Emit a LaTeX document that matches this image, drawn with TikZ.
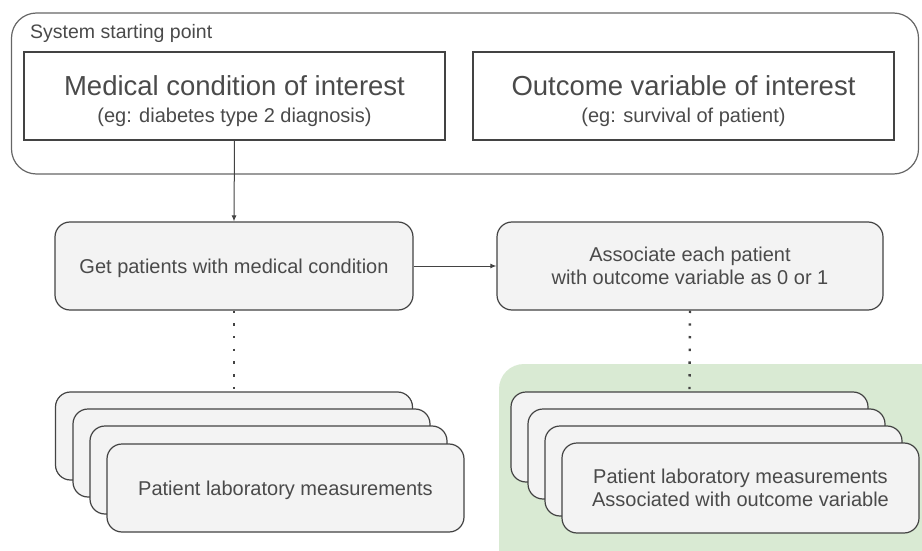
\documentclass[tikz,border=0pt]{standalone}
\usepackage{fontspec}
\setmainfont{Liberation Sans}
\usetikzlibrary{arrows.meta,positioning}
\definecolor{linegray}{HTML}{434343}
\definecolor{framegray}{HTML}{666666}
\definecolor{textgray}{HTML}{4A4A4A}
\definecolor{boxfill}{HTML}{F3F3F3}
\definecolor{softgreen}{HTML}{D9EAD3}

\begin{document}
\begin{tikzpicture}[x=1pt, y=-1pt,
    frame/.style={draw=linegray, line width=1.1pt, minimum width=421pt, minimum height=88pt, align=center, text=textgray, text height=56pt, text depth=4pt, font=\fontsize{20}{27}\selectfont},
    stepbox/.style={draw=linegray, fill=boxfill, line width=1.2pt, rounded corners=15pt, minimum height=88pt, align=center, text=textgray, text depth=0pt, font=\fontsize{20}{23.5}\selectfont},
    sheet/.style={stepbox, minimum width=357pt},
    flow/.style={draw=linegray, line width=1pt, -{Latex[length=6pt,width=5pt]}},
    dotline/.style={draw=linegray, line width=2.4pt, dash pattern=on 2.4pt off 10.3pt},
]
\useasboundingbox (0,0) rectangle (922,551);

% starting point
\node[draw=framegray, line width=1.2pt, rounded corners=25pt, minimum width=907pt, minimum height=161pt] (start) at (465,93.5) {};
\node[anchor=base west, inner sep=0pt, text=textgray, font=\fontsize{19.5}{23}\selectfont] (startlabel) at (30,39) {System starting point};
\node[frame] (medical) at (234.5,96) {{\fontsize{27.5}{27}\selectfont Medical condition of interest}\\(eg: diabetes type 2 diagnosis)};
\node[frame] (outcome) at (683.5,96) {{\fontsize{27.5}{27}\selectfont Outcome variable of interest}\\(eg: survival of patient)};

% steps
\node[stepbox, minimum width=358pt] (getpat) at (234,266) {Get patients with medical condition};
\node[stepbox, minimum width=386pt] (assoc) at (690,266) {Associate each patient\\with outcome variable as 0 or 1};

% green area
\begin{scope}
\clip (0,0) rectangle (922,551);
\fill[softgreen, rounded corners=25pt] (499,364) rectangle (960,600);
\end{scope}

% left stack
\node[sheet] (lab1) at (234,436) {};
\node[sheet] (lab2) at (251.5,453) {};
\node[sheet] (lab3) at (268.5,470) {};
\node[sheet] (lab4) at (285.5,488) {Patient laboratory measurements};

% right stack
\node[sheet, minimum height=90pt] (out1) at (689.5,437) {};
\node[sheet, minimum height=90pt] (out2) at (706.5,454) {};
\node[sheet, minimum height=90pt] (out3) at (723.5,471) {};
\node[sheet, minimum height=90pt] (out4) at (740.5,488) {Patient laboratory measurements\\Associated with outcome variable};

% connectors
\draw[flow] (medical.south) -- (getpat.north);
\draw[flow] (getpat.east) -- (assoc.west);
\draw[dotline] (getpat.south) -- (lab1.north);
\draw[dotline] (assoc.south) -- (out1.north);
\end{tikzpicture}
\end{document}
